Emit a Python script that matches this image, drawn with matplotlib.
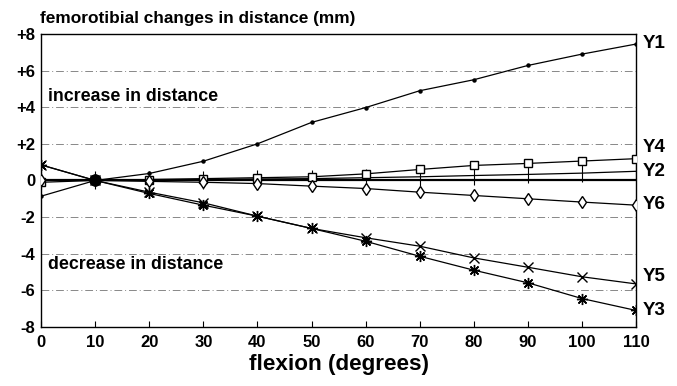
import matplotlib
matplotlib.use("Agg")
import matplotlib.pyplot as plt

plt.rcParams['font.family'] = ['Liberation Sans', 'DejaVu Sans']

flexion = [0, 10, 20, 30, 40, 50, 60, 70, 80, 90, 100, 110]
y1 = [-0.86, 0, 0.38, 1.05, 2.0, 3.17, 3.98, 4.9, 5.5, 6.28, 6.9, 7.45]
y2 = [0.05, 0, 0.05, 0.05, 0.08, 0.1, 0.15, 0.2, 0.27, 0.33, 0.4, 0.5]
y3 = [0.85, 0, -0.71, -1.35, -1.95, -2.62, -3.32, -4.14, -4.9, -5.59, -6.45, -7.1]
y4 = [-0.1, 0, 0.05, 0.1, 0.15, 0.2, 0.36, 0.6, 0.82, 0.93, 1.06, 1.19]
y5 = [0.85, 0, -0.64, -1.22, -1.95, -2.62, -3.13, -3.59, -4.23, -4.74, -5.26, -5.65]
y6 = [0.05, 0, -0.05, -0.1, -0.17, -0.31, -0.44, -0.64, -0.82, -1.0, -1.18, -1.35]
series_names = ['Y1', 'Y2', 'Y3', 'Y4', 'Y5', 'Y6']
yticks = [8, 6, 4, 2, 0, -2, -4, -6, -8]
ytick_labels = ['+8', '+6', '+4', '+2', '0', '-2', '-4', '-6', '-8']
xticks = [0, 10, 20, 30, 40, 50, 60, 70, 80, 90, 100, 110]

fig = plt.figure(figsize=(6.77, 3.86), dpi=100)
ax = fig.add_axes([0.0606, 0.153, 0.879, 0.759])
ax.set_xlim(0, 110)
ax.set_ylim(-8, 8)

for g in [6, 4, 2, -2, -4, -6]:
    ax.axhline(g, color='#888888', lw=0.7, ls=(0, (8, 3, 1, 3)), zorder=1)
ax.axhline(0, color='black', lw=1.6, zorder=2)

lw = 0.9
ax.plot(flexion, y1, color='black', lw=lw, marker='o', ms=2.2, zorder=3)
ax.plot(flexion, y2, color='black', lw=lw, marker='|', ms=13, mew=0.8, zorder=3)
ax.plot(flexion, y4, color='black', lw=lw, marker='s', ms=6, mfc='white', mew=1.0, zorder=4)
ax.plot(flexion, y6, color='black', lw=lw, marker='d', ms=6, mfc='white', mew=1.0, zorder=4)
ax.plot(flexion, y5, color='black', lw=lw, marker='x', ms=7, mew=1.0, zorder=4)
ax.plot(flexion, y3, color='black', lw=lw, marker=(8, 2, 0), ms=8, mew=1.0, zorder=4)
ax.plot([10], [0], marker='o', ms=8, color='black', zorder=5)

ends = {'Y1': 7.5, 'Y2': 0.5, 'Y3': -7.1, 'Y4': 1.8, 'Y5': -5.25, 'Y6': -1.3}
for name in series_names:
    ax.text(111.3, ends[name], name, fontsize=13.5, fontweight='bold',
            va='center', ha='left', clip_on=False)

ax.text(1.3, 4.6, 'increase in distance', fontsize=12.8, fontweight='bold', va='center')
ax.text(1.3, -4.6, 'decrease in distance', fontsize=12.8, fontweight='bold', va='center')

ax.set_yticks(yticks)
ax.set_yticklabels(ytick_labels, fontsize=12, fontweight='bold')
ax.set_xticks(xticks)
ax.set_xticklabels([str(v) for v in xticks], fontsize=12, fontweight='bold')
ax.tick_params(axis='x', direction='in', length=4, pad=6)
ax.tick_params(axis='y', length=0, pad=4)
for s in ax.spines.values():
    s.set_linewidth(1.0)

ax.set_xlabel('flexion (degrees)', fontsize=16.2, fontweight='bold', labelpad=3)
fig.text(0.059, 0.953, 'femorotibial changes in distance (mm)', fontsize=12.4,
         fontweight='bold', va='center', ha='left')

fig.savefig('out.png', dpi=100)
